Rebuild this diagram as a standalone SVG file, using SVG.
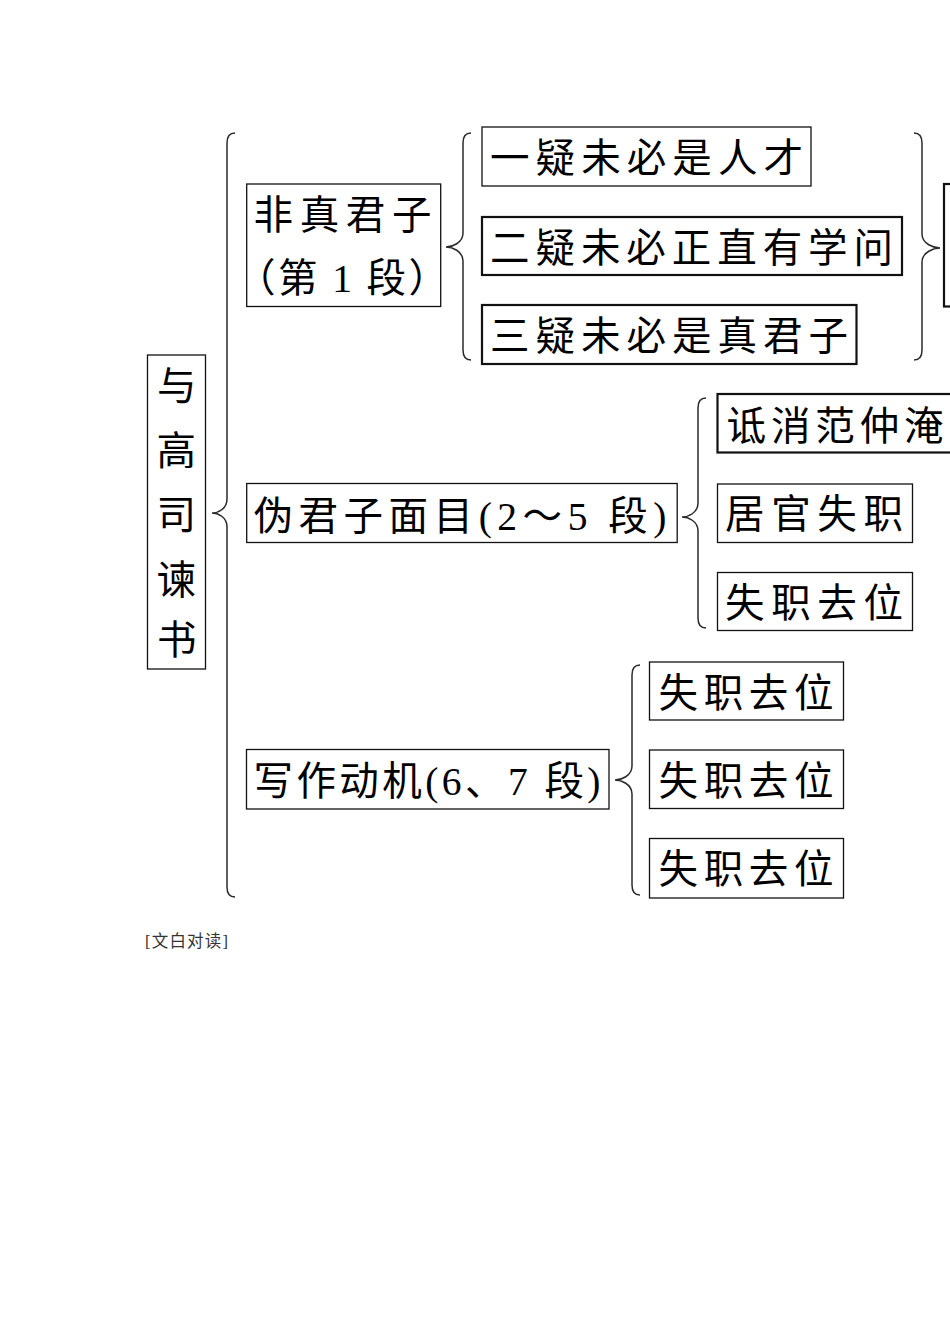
<svg xmlns="http://www.w3.org/2000/svg" width="950" height="1344" viewBox="0 0 950 1344">
<style>
  .box { fill: #fff; stroke: #111; stroke-width: 1.3; }
  .thick { stroke-width: 2.2; }
  .t { font-family: "Liberation Serif", "Noto Sans CJK SC", serif; font-size: 39.5px; fill: #000; }
  .brace { fill: none; stroke: #2a2a2a; stroke-width: 1.5; }
  .foot { font-family: "Liberation Serif", "Noto Sans CJK SC", serif; font-size: 16.5px; fill: #333; }
</style>
<rect width="950" height="1344" fill="#fff"/>

<g id="connectors">
  <path class="brace" d="M235,133 Q227,133 227,143 L227,499 C227,509 218,513 212,513 C218,513 227,517 227,527 L227,887 Q227,897 235,897"/>
  <path class="brace" d="M471,133 Q463,133 463,143 L463,233 C463,243 452,247 446,247 C452,247 463,251 463,261 L463,350 Q463,360 471,360"/>
  <path class="brace" d="M914,133 Q922,133 922,143 L922,234 C922,244 934,248 940,248 C934,248 922,252 922,262 L922,350 Q922,360 914,360"/>
  <path class="brace" d="M706,398 Q698,398 698,408 L698,503 C698,513 688,517 682,517 C688,517 698,521 698,531 L698,618 Q698,628 706,628"/>
  <path class="brace" d="M640,665 Q632,665 632,675 L632,766 C632,776 621,780 615,780 C621,780 632,784 632,794 L632,885 Q632,895 640,895"/>
</g>

<g id="root">
  <rect class="box" x="147.5" y="355" width="58" height="314"/>
  <text class="t">
    <tspan x="157" y="400">与</tspan>
    <tspan x="156.5" y="465">高</tspan>
    <tspan x="156.5" y="529">司</tspan>
    <tspan x="156.5" y="594">谏</tspan>
    <tspan x="157" y="654">书</tspan>
  </text>
</g>

<g id="n-feizhen">
  <rect class="box" x="246.7" y="184" width="194" height="122.5"/>
  <text class="t" x="253.5" y="229" textLength="178" lengthAdjust="spacing">非真君子</text>
  <text class="t" x="236" y="292" textLength="212" lengthAdjust="spacing">（第 1 段）</text>
</g>

<g id="n-yiyi">
  <rect class="box" x="482" y="127" width="329" height="59"/>
  <text class="t" x="490" y="172" textLength="313" lengthAdjust="spacing">一疑未必是人才</text>
</g>
<g id="n-eryi">
  <rect class="box thick" x="482" y="217" width="420" height="58"/>
  <text class="t" x="490" y="262" textLength="403" lengthAdjust="spacing">二疑未必正直有学问</text>
</g>
<g id="n-sanyi">
  <rect class="box thick" x="482" y="305" width="374.5" height="59"/>
  <text class="t" x="490" y="350" textLength="358" lengthAdjust="spacing">三疑未必是真君子</text>
</g>
<g id="n-right-cut">
  <rect class="box thick" x="944" y="184" width="60" height="122.5"/>
</g>

<g id="n-weijunzi">
  <rect class="box" x="246.7" y="483.5" width="430.5" height="59"/>
  <text class="t" x="253.5" y="530" textLength="413" lengthAdjust="spacing">伪君子面目(2～5 段)</text>
</g>
<g id="n-dixiao">
  <rect class="box thick" x="717.5" y="394" width="260" height="58.5"/>
  <text class="t" x="726.5" y="440" textLength="217" lengthAdjust="spacing">诋消范仲淹</text>
</g>
<g id="n-juguan">
  <rect class="box" x="717.5" y="484" width="195" height="58.5"/>
  <text class="t" x="725" y="528" textLength="178" lengthAdjust="spacing">居官失职</text>
</g>
<g id="n-shizhi1">
  <rect class="box" x="717.5" y="572.5" width="195" height="58"/>
  <text class="t" x="725" y="617" textLength="178" lengthAdjust="spacing">失职去位</text>
</g>

<g id="n-xiezuo">
  <rect class="box" x="246.5" y="749.5" width="362.5" height="59.5"/>
  <text class="t" x="253.5" y="795" textLength="347" lengthAdjust="spacing">写作动机(6、7 段)</text>
</g>
<g id="n-shizhi2">
  <rect class="box" x="649.5" y="662" width="194" height="58"/>
  <text class="t" x="658.5" y="707" textLength="175" lengthAdjust="spacing">失职去位</text>
</g>
<g id="n-shizhi3">
  <rect class="box" x="649.5" y="750" width="194" height="58.5"/>
  <text class="t" x="658.5" y="795" textLength="175" lengthAdjust="spacing">失职去位</text>
</g>
<g id="n-shizhi4">
  <rect class="box" x="649.5" y="838.5" width="194" height="59.5"/>
  <text class="t" x="658.5" y="883" textLength="175" lengthAdjust="spacing">失职去位</text>
</g>

<text class="foot" x="145" y="947" textLength="83" lengthAdjust="spacing">[文白对读]</text>
</svg>
